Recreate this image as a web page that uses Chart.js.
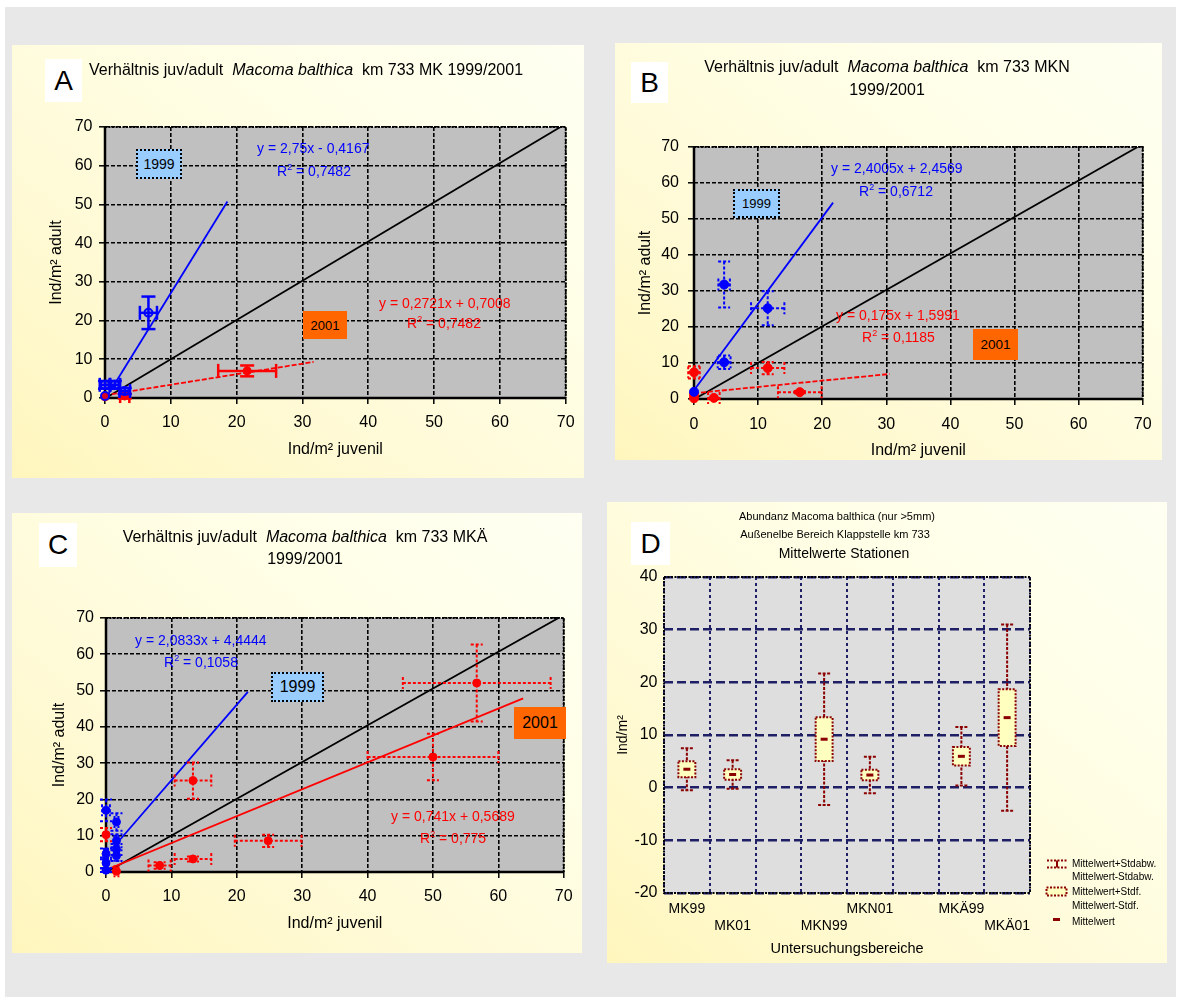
<!DOCTYPE html>
<html lang="de">
<head>
<meta charset="utf-8">
<title>Macoma balthica – Verhältnis juv/adult, km 733</title>
<script src="https://cdn.jsdelivr.net/npm/chart.js@4.4.1/dist/chart.umd.min.js"></script>
<style>
  html,body{margin:0;padding:0;background:#fff;}
  body{width:1179px;height:1001px;position:relative;overflow:hidden;font-family:"Liberation Sans",Arial,Helvetica,sans-serif;color:#000;}
  #sheet{position:absolute;left:5px;top:7px;width:1171px;height:990px;background:#e8e8e8;}
  .panel{position:absolute;background:linear-gradient(to top right,#fff6bd 0%,#fffad6 35%,#ffffe8 70%,#fffff2 100%);}
  .panel canvas{position:absolute;left:0;top:0;}
  .tag{position:absolute;background:#fff;font-size:28px;display:flex;align-items:center;justify-content:center;}
  .txt{position:absolute;white-space:nowrap;height:20px;line-height:20px;}
  .ttl{font-size:16px;}
  .center{text-align:center;width:400px;}
  .year{position:absolute;display:flex;align-items:center;justify-content:center;box-sizing:border-box;}
  .y99{background:#99ccff;border:2px dotted #000;}
  .y01{background:#ff6600;}
  .blue{color:#0000ff;font-size:14px;}
  .red{color:#ff0000;font-size:14px;}
  sup{font-size:9px;vertical-align:6px;line-height:0;}
  .leg{font-size:10px;}
  svg{position:absolute;}
</style>
</head>
<body>
<div id="sheet"></div>

<div class="panel" style="left:12px;top:45px;width:572px;height:433px;"><canvas id="chartA" width="572" height="433" style="width:572px;height:433px;"></canvas></div>
<div class="panel" style="left:615px;top:43px;width:547px;height:417px;"><canvas id="chartB" width="547" height="417" style="width:547px;height:417px;"></canvas></div>
<div class="panel" style="left:12px;top:513px;width:570px;height:440px;"><canvas id="chartC" width="570" height="440" style="width:570px;height:440px;"></canvas></div>
<div class="panel" style="left:607px;top:502px;width:560px;height:461px;"><canvas id="chartD" width="560" height="461" style="width:560px;height:461px;"></canvas></div>

<!-- Panel A -->
<div class="tag" style="left:45px;top:59px;width:37px;height:43px;">A</div>
<div class="txt ttl" style="left:89px;top:60px;">Verhältnis juv/adult&nbsp; <i>Macoma balthica</i>&nbsp; km 733 MK 1999/2001</div>
<div class="year y99" style="left:136px;top:149px;width:46px;height:30px;font-size:14px;">1999</div>
<div class="year y01" style="left:303px;top:311px;width:44px;height:28px;font-size:13px;">2001</div>
<div class="txt blue" id="eqA99" style="left:257px;top:138px;"></div>
<div class="txt blue" id="r2A99" style="left:277px;top:161px;"></div>
<div class="txt red" id="eqA01" style="left:379px;top:293px;"></div>
<div class="txt red" id="r2A01" style="left:407px;top:313px;"></div>

<!-- Panel B -->
<div class="tag" style="left:631px;top:62px;width:37px;height:41px;">B</div>
<div class="txt ttl center" style="left:687px;top:57px;">Verhältnis juv/adult&nbsp; <i>Macoma balthica</i>&nbsp; km 733 MKN</div>
<div class="txt ttl center" style="left:687px;top:80px;">1999/2001</div>
<div class="year y99" style="left:733px;top:189px;width:47px;height:29px;font-size:13px;">1999</div>
<div class="year y01" style="left:973px;top:329px;width:45px;height:31px;font-size:13.5px;">2001</div>
<div class="txt blue" id="eqB99" style="left:831px;top:158px;"></div>
<div class="txt blue" id="r2B99" style="left:859px;top:181px;"></div>
<div class="txt red" id="eqB01" style="left:836px;top:305px;"></div>
<div class="txt red" id="r2B01" style="left:862px;top:327px;"></div>

<!-- Panel C -->
<div class="tag" style="left:39px;top:523px;width:38px;height:44px;">C</div>
<div class="txt ttl center" style="left:105px;top:527px;">Verhältnis juv/adult&nbsp; <i>Macoma balthica</i>&nbsp; km 733 MKÄ</div>
<div class="txt ttl center" style="left:105px;top:549px;">1999/2001</div>
<div class="year y99" style="left:271px;top:672px;width:53px;height:30px;font-size:16px;">1999</div>
<div class="year y01" style="left:514px;top:707px;width:52px;height:32px;font-size:16px;">2001</div>
<div class="txt blue" id="eqC99" style="left:135px;top:630px;"></div>
<div class="txt blue" id="r2C99" style="left:164px;top:652px;"></div>
<div class="txt red" id="eqC01" style="left:391px;top:806px;"></div>
<div class="txt red" id="r2C01" style="left:420px;top:828px;"></div>

<!-- Panel D -->
<div class="tag" style="left:631px;top:522px;width:39px;height:43px;">D</div>
<div class="txt center" style="left:637px;top:506px;font-size:11px;">Abundanz Macoma balthica (nur &gt;5mm)</div>
<div class="txt center" style="left:635px;top:524px;font-size:11px;">Außenelbe Bereich Klappstelle km 733</div>
<div class="txt center" style="left:644px;top:543px;font-size:14px;">Mittelwerte Stationen</div>

<svg style="left:1046px;top:859px;" width="22" height="10">
  <g stroke="#8b0000" stroke-width="2" fill="none">
    <line x1="1" y1="1.5" x2="21" y2="1.5" stroke-dasharray="2 1.5"/>
    <line x1="1" y1="8.5" x2="21" y2="8.5" stroke-dasharray="2 1.5"/>
    <line x1="11" y1="1.5" x2="11" y2="8.5"/>
  </g>
</svg>
<div class="txt leg" style="left:1072px;top:854px;">Mittelwert+Stdabw.</div>
<div class="txt leg" style="left:1072px;top:867px;">Mittelwert-Stdabw.</div>
<svg style="left:1045px;top:886px;" width="23" height="11">
  <rect x="1.5" y="1.5" width="20" height="8" fill="#ffffc0" stroke="#8b0000" stroke-width="2" stroke-dasharray="2 1.5"/>
</svg>
<div class="txt leg" style="left:1072px;top:882px;">Mittelwert+Stdf.</div>
<div class="txt leg" style="left:1072px;top:896px;">Mittelwert-Stdf.</div>
<svg style="left:1053px;top:918px;" width="7" height="4"><rect x="0" y="0" width="7" height="3" fill="#8b0000"/></svg>
<div class="txt leg" style="left:1072px;top:912px;">Mittelwert</div>

<script>
// ---------- shared axis settings for the juvenile/adult panels ----------
const juvAdultRange = [0, 70, 10];           // min, max, step (Ind/m²)
const diagonalJuv   = [0.5, 69.2];           // 1:1 reference line
const diagonalAdult = [0.4, 70];

// ---------- A: station MK ----------
const mkJuv99     = [0, 0, 1.5, 3.0, 6.6];
const mkAdult99   = [0.5, 3.4, 3.4, 1.8, 22.0];
const mkJuvSd99   = [0, 0.8, 0.8, 0.8, 1.3];
const mkAdultSd99 = [0, 1.0, 1.0, 0.8, 4.2];
const mkJuv01     = [0, 3.0, 21.6];
const mkAdult01   = [0.3, 0.5, 7.0];
const mkJuvSd01   = [0, 0.7, 4.4];
const mkAdultSd01 = [0, 0.6, 1.4];
const mkFit99 = [2.75, -0.4167];   const mkFitSpan99 = [0.15, 18.6];  const mkR2_99 = 0.7482;
const mkFit01 = [0.2721, 0.7008];  const mkFitSpan01 = [0, 31.7];     const mkR2_01 = 0.7482;

// ---------- B: station MKN ----------
const mknJuv99     = [0, 4.7, 4.7, 11.5];
const mknAdult99   = [2.0, 10.2, 31.8, 25.2];
const mknJuvSd99   = [0, 1.0, 0.9, 2.6];
const mknAdultSd99 = [0, 1.9, 6.4, 4.7];
const mknJuv01     = [0, 0, 0, 3.1, 11.5, 16.5];
const mknAdult01   = [0.2, 1.2, 7.4, 0.3, 8.6, 1.9];
const mknJuvSd01   = [0, 0, 0.9, 0.9, 2.6, 3.4];
const mknAdultSd01 = [0, 0, 1.7, 0, 1.7, 0.3];
const mknFit99 = [2.4005, 2.4569]; const mknFitSpan99 = [0, 21.7];    const mknR2_99 = 0.6712;
const mknFit01 = [0.175, 1.5991];  const mknFitSpan01 = [0, 30.5];    const mknR2_01 = 0.1185;

// ---------- C: station MKÄ ----------
const mkaJuv99     = [0, 0, 0, 0, 1.6, 1.6, 1.6, 1.6];
const mkaAdult99   = [0.5, 2.5, 5.0, 17.0, 4.5, 6.2, 8.6, 13.8];
const mkaJuvSd99   = [0, 0.3, 0.3, 0.6, 0.3, 0.3, 0.3, 0.3];
const mkaAdultSd99 = [0.5, 1.5, 1.5, 3.0, 1.5, 1.5, 1.8, 2.4];
const mkaJuv01     = [0, 1.6, 8.2, 13.3, 13.3, 24.8, 50.0, 56.7];
const mkaAdult01   = [10.3, 0.2, 1.8, 3.6, 25.2, 8.6, 31.7, 52.1];
const mkaJuvSd01   = [0, 0.3, 1.7, 2.8, 2.8, 5.1, 10.0, 11.3];
const mkaAdultSd01 = [1.8, 0, 0.9, 0.7, 5.0, 1.7, 6.4, 10.6];
const mkaFit99 = [2.0833, 4.4444]; const mkaFitSpan99 = [1.6, 21.7];  const mkaR2_99 = 0.1058;
const mkaFit01 = [0.741, 0.5689];  const mkaFitSpan01 = [0, 63.8];    const mkaR2_01 = 0.775;

// ---------- D: station means ----------
const stations = ['MK99', 'MK01', '', 'MKN99', 'MKN01', '', 'MKÄ99', 'MKÄ01'];
const stMean   = [3.5, 2.5, null, 9.2, 2.4, null, 5.95, 13.3];
const stSE     = [1.5, 1.0, null, 4.15, 1.0, null, 1.75, 5.4];
const stSD     = [4.0, 2.7, null, 12.5, 3.45, null, 5.55, 17.7];
const abundanceRange = [-20, 40, 10];

// ---------- helpers ----------
Chart.defaults.font.family = '"Liberation Sans", Arial, Helvetica, sans-serif';
Chart.defaults.color = '#000';
Chart.defaults.animation = false;

const num = v => String(v).replace('.', ',');
function eqText(c) { return 'y = ' + num(c[0]) + 'x ' + (c[1] < 0 ? '- ' : '+ ') + num(Math.abs(c[1])); }
function r2Text(r) { return 'R<sup>2</sup> = ' + num(r); }
function pts(xs, ys) { return xs.map((x, i) => ({x: x, y: ys[i]})); }
function fitPts(c, span) { return span.map(x => ({x: x, y: c[0] * x + c[1]})); }

function seg(ctx, x1, y1, x2, y2) { ctx.beginPath(); ctx.moveTo(x1, y1); ctx.lineTo(x2, y2); ctx.stroke(); }

// plot area fill and frame
const plotFrame = {
  id: 'plotFrame',
  beforeDraw(chart, args, opts) {
    const a = chart.chartArea, c = chart.ctx;
    c.save(); c.fillStyle = opts.fill; c.fillRect(a.left, a.top, a.width, a.height); c.restore();
  },
  beforeDatasetsDraw(chart, args, opts) {
    const a = chart.chartArea, c = chart.ctx;
    c.save();
    c.strokeStyle = '#000';
    if (opts.style === 'scatter') {
      c.lineWidth = 2; c.setLineDash([2, 1.5]);
      c.beginPath(); c.moveTo(a.left, a.top); c.lineTo(a.right, a.top); c.lineTo(a.right, a.bottom); c.stroke();
      c.setLineDash([]); c.lineWidth = 2.5;
      c.beginPath(); c.moveTo(a.left, a.top); c.lineTo(a.left, a.bottom); c.lineTo(a.right, a.bottom); c.stroke();
    } else {
      c.lineWidth = 2; c.setLineDash([2, 1.5]);
      c.strokeRect(a.left, a.top, a.width, a.height);
    }
    c.restore();
  }
};

// horizontal and vertical standard deviation bars for the point series
const errorBars = {
  id: 'errorBars',
  beforeDatasetDraw(chart, args) {
    const ds = chart.data.datasets[args.index];
    if (!ds.errX) return;
    const ctx = chart.ctx, xs = chart.scales.x, ys = chart.scales.y;
    ctx.save();
    ctx.strokeStyle = ds.borderColor; ctx.lineWidth = ds.errWidth; ctx.setLineDash(ds.errDash || []);
    ds.data.forEach((p, i) => {
      const px = xs.getPixelForValue(p.x), py = ys.getPixelForValue(p.y), c = ds.errCap;
      const ex = ds.errX[i], ey = ds.errY[i];
      if (ex > 0) {
        const l = xs.getPixelForValue(p.x - ex), r = xs.getPixelForValue(p.x + ex);
        seg(ctx, l, py, r, py); seg(ctx, l, py - c, l, py + c); seg(ctx, r, py - c, r, py + c);
      }
      if (ey > 0) {
        const t = ys.getPixelForValue(p.y + ey), b = ys.getPixelForValue(p.y - ey);
        seg(ctx, px, t, px, b); seg(ctx, px - c, t, px + c, t); seg(ctx, px - c, b, px + c, b);
      }
    });
    ctx.restore();
  }
};

function scatterPanel(id, g, s) {
  const pointSet = (label, xs, ys, sx, sy, color, hollow) => ({
    label: label, data: pts(xs, ys), errX: sx, errY: sy,
    errWidth: g.errWidth, errDash: g.errDash, errCap: g.errCap,
    borderColor: color, backgroundColor: hollow ? 'rgba(0,0,255,0.15)' : color,
    pointStyle: 'circle', pointRadius: g.pointRadius, pointBorderWidth: hollow ? 2 : 1,
    clip: false, showLine: false
  });
  const lineSet = (label, data, color, dash) => ({
    label: label, data: data, showLine: true, borderColor: color, borderWidth: 1.8,
    borderDash: dash || [], pointRadius: 0, fill: false
  });
  return new Chart(document.getElementById(id), {
    type: 'scatter',
    data: { datasets: [
      pointSet('1999', s.j99, s.a99, s.sj99, s.sa99, '#0000ff', s.hollow99),
      pointSet('2001', s.j01, s.a01, s.sj01, s.sa01, '#ff0000', false),
      lineSet('Trend 1999', fitPts(s.fit99, s.span99), '#0000ff'),
      lineSet('Trend 2001', fitPts(s.fit01, s.span01), '#ff0000', s.dash01),
      lineSet('1:1', pts(diagonalJuv, diagonalAdult), '#000000')
    ]},
    options: {
      responsive: false, animation: false,
      layout: { padding: { top: g.top, right: g.right, left: 0, bottom: 0 } },
      plugins: { legend: { display: false }, tooltip: { enabled: false },
                 plotFrame: { fill: '#c0c0c0', style: 'scatter' } },
      scales: {
        x: {
          type: 'linear', min: juvAdultRange[0], max: juvAdultRange[1],
          afterFit: sc => { sc.height = g.xH; },
          ticks: { stepSize: juvAdultRange[2], padding: g.xTickPad, font: { size: 16 }, color: '#000' },
          grid: { color: '#000', lineWidth: 1.6, tickLength: 6, tickColor: '#000', tickWidth: 1.5 },
          border: { display: false, dash: [4, 2] },
          title: { display: true, text: 'Ind/m² juvenil', font: { size: 16 }, color: '#000',
                   padding: { top: 0, bottom: g.xTitlePad } }
        },
        y: {
          type: 'linear', min: juvAdultRange[0], max: juvAdultRange[1],
          afterFit: sc => { sc.width = g.yW; },
          ticks: { stepSize: juvAdultRange[2], padding: g.yTickPad, font: { size: 16 }, color: '#000' },
          grid: { color: '#000', lineWidth: 1.6, tickLength: 6, tickColor: '#000', tickWidth: 1.5 },
          border: { display: false, dash: [4, 2] },
          title: { display: true, text: 'Ind/m² adult', font: { size: 16 }, color: '#000',
                   padding: { top: g.yTitlePad, bottom: 0 } }
        }
      }
    },
    plugins: [plotFrame, errorBars]
  });
}

scatterPanel('chartA',
  { top: 82, right: 14, yW: 93, xH: 80, yTitlePad: 35.4, xTitlePad: 18.4, xTickPad: 9.4, yTickPad: 6.5,
    errWidth: 2.5, errDash: [], errCap: 7, pointRadius: 4 },
  { j99: mkJuv99, a99: mkAdult99, sj99: mkJuvSd99, sa99: mkAdultSd99, hollow99: true,
    j01: mkJuv01, a01: mkAdult01, sj01: mkJuvSd01, sa01: mkAdultSd01,
    fit99: mkFit99, span99: mkFitSpan99, fit01: mkFit01, span01: mkFitSpan01, dash01: [5, 2] });

scatterPanel('chartB',
  { top: 104, right: 13, yW: 79, xH: 61, yTitlePad: 21.4, xTitlePad: 0, xTickPad: 10.4, yTickPad: 9,
    errWidth: 2, errDash: [3, 2], errCap: 6, pointRadius: 4.5 },
  { j99: mknJuv99, a99: mknAdult99, sj99: mknJuvSd99, sa99: mknAdultSd99, hollow99: false,
    j01: mknJuv01, a01: mknAdult01, sj01: mknJuvSd01, sa01: mknAdultSd01,
    fit99: mknFit99, span99: mknFitSpan99, fit01: mknFit01, span01: mknFitSpan01, dash01: [5, 2] });

scatterPanel('chartC',
  { top: 105, right: 13, yW: 94, xH: 81, yTitlePad: 38.4, xTitlePad: 19.4, xTickPad: 9.4, yTickPad: 6,
    errWidth: 2, errDash: [3, 2], errCap: 6, pointRadius: 4 },
  { j99: mkaJuv99, a99: mkaAdult99, sj99: mkaJuvSd99, sa99: mkaAdultSd99, hollow99: false,
    j01: mkaJuv01, a01: mkaAdult01, sj01: mkaJuvSd01, sa01: mkaAdultSd01,
    fit99: mkaFit99, span99: mkaFitSpan99, fit01: mkaFit01, span01: mkaFitSpan01, dash01: [] });

// regression labels
document.getElementById('eqA99').innerHTML = eqText(mkFit99);
document.getElementById('r2A99').innerHTML = r2Text(mkR2_99);
document.getElementById('eqA01').innerHTML = eqText(mkFit01);
document.getElementById('r2A01').innerHTML = r2Text(mkR2_01);
document.getElementById('eqB99').innerHTML = eqText(mknFit99);
document.getElementById('r2B99').innerHTML = r2Text(mknR2_99);
document.getElementById('eqB01').innerHTML = eqText(mknFit01);
document.getElementById('r2B01').innerHTML = r2Text(mknR2_01);
document.getElementById('eqC99').innerHTML = eqText(mkaFit99);
document.getElementById('r2C99').innerHTML = r2Text(mkaR2_99);
document.getElementById('eqC01').innerHTML = eqText(mkaFit01);
document.getElementById('r2C01').innerHTML = r2Text(mkaR2_01);

// ---------- D: mean ± SE boxes with ± SD whiskers ----------
const boxWhiskers = {
  id: 'boxWhiskers',
  beforeDatasetsDraw(chart) {
    const ctx = chart.ctx, xs = chart.scales.x, ys = chart.scales.y;
    ctx.save();
    ctx.strokeStyle = '#8b0000'; ctx.lineWidth = 2; ctx.setLineDash([3, 1.5]);
    stMean.forEach((m, i) => {
      if (m == null) return;
      const px = xs.getPixelForValue(i);
      const t = ys.getPixelForValue(m + stSD[i]), b = ys.getPixelForValue(m - stSD[i]);
      seg(ctx, px, t, px, b); seg(ctx, px - 6, t, px + 6, t); seg(ctx, px - 6, b, px + 6, b);
    });
    ctx.restore();
  },
  afterDatasetDraw(chart, args) {
    if (args.meta.type !== 'bar') return;
    const ctx = chart.ctx;
    const values = chart.data.datasets[args.index].data;
    ctx.save();
    ctx.strokeStyle = '#8b0000'; ctx.lineWidth = 2; ctx.setLineDash([2, 1.5]);
    args.meta.data.forEach((el, i) => {
      if (values[i] == null) return;
      const p = el.getProps(['x', 'y', 'base', 'width'], true);
      ctx.strokeRect(p.x - p.width / 2, Math.min(p.y, p.base), p.width, Math.abs(p.base - p.y));
    });
    ctx.restore();
  }
};

new Chart(document.getElementById('chartD'), {
  type: 'bar',
  data: {
    labels: stations.map((s, i) => i % 2 === 0 ? [s, ''] : ['', s]),
    datasets: [
      { type: 'line', label: 'Mittelwert', data: stMean, showLine: false, pointStyle: 'line',
        pointRadius: 3.5, pointBorderWidth: 3, pointBorderColor: '#8b0000', borderColor: '#8b0000',
        backgroundColor: '#8b0000', clip: false },
      { type: 'bar', label: 'Mittelwert±Stdf.',
        data: stMean.map((m, i) => m == null ? null : [m - stSE[i], m + stSE[i]]),
        backgroundColor: '#ffffc0', borderWidth: 0, barPercentage: 0.37, categoryPercentage: 1 }
    ]
  },
  options: {
    responsive: false, animation: false,
    layout: { padding: { top: 75, right: 137, left: 0, bottom: 0 } },
    plugins: { legend: { display: false }, tooltip: { enabled: false },
               plotFrame: { fill: '#dedede', style: 'box' } },
    scales: {
      x: {
        afterFit: sc => { sc.height = 70; },
        ticks: { padding: 7.6, font: { size: 14 }, color: '#000', maxRotation: 0, autoSkip: false },
        grid: { color: '#1f1f66', lineWidth: 2, drawTicks: false, offset: true },
        border: { display: false, dash: [3, 3] },
        title: { display: true, text: 'Untersuchungsbereiche', font: { size: 14.5 }, color: '#000',
                 padding: { top: 0, bottom: 5.4 } }
      },
      y: {
        min: abundanceRange[0], max: abundanceRange[1],
        afterFit: sc => { sc.width = 57; },
        ticks: { stepSize: abundanceRange[2], padding: 6.5, font: { size: 16 }, color: '#000' },
        grid: { color: '#1f1f66', lineWidth: 2.5, drawTicks: false },
        border: { display: false, dash: [9, 4] },
        title: { display: true, text: 'Ind/m²', font: { size: 14 }, color: '#000',
                 padding: { top: 7.6, bottom: 0 } }
      }
    }
  },
  plugins: [plotFrame, boxWhiskers]
});
</script>
</body>
</html>
